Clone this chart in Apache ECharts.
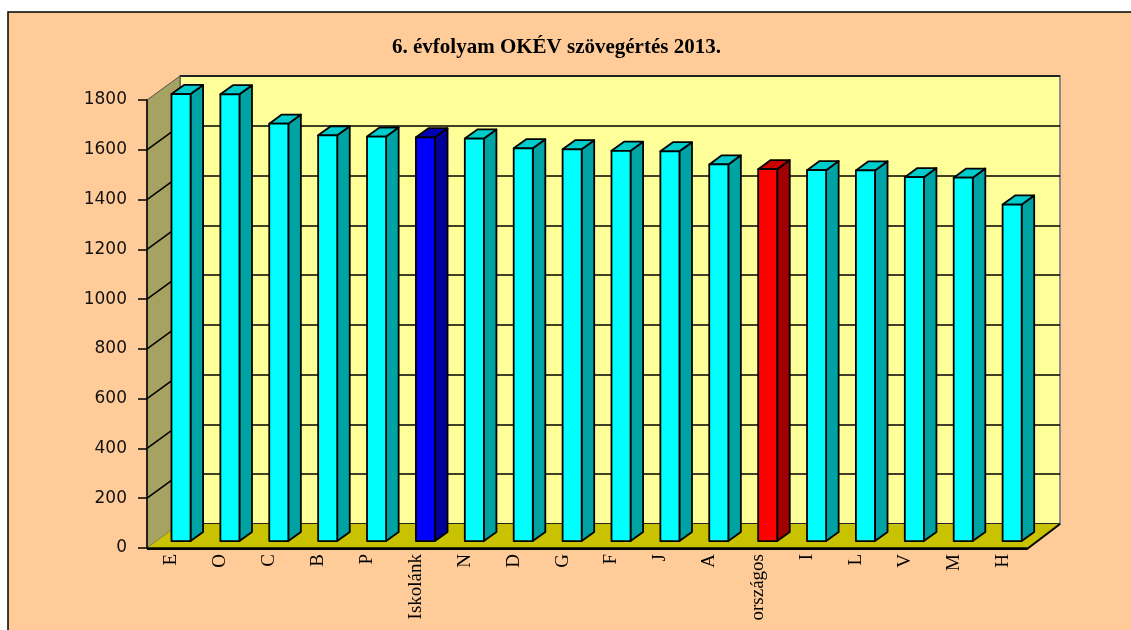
<!DOCTYPE html>
<html>
<head>
    <meta charset="UTF-8">
    <title>6. évfolyam OKÉV szövegértés 2013.</title>
    <script src="https://cdn.jsdelivr.net/npm/echarts@6/dist/echarts.min.js"></script>
    <style>
        html, body { margin: 0; padding: 0; background: #fff; }
    </style>
</head>
<body>
<div id="chart" style="width:1131px;height:630px;"></div>
<script type="text/javascript">

    var categories = ['E', 'O', 'C', 'B', 'P', 'Iskolánk', 'N', 'D', 'G', 'F', 'J', 'A', 'országos', 'I', 'L', 'V', 'M', 'H'];
    var values = [1796, 1795, 1677, 1630, 1625, 1622, 1617, 1578, 1574, 1568, 1566, 1513, 1494, 1490, 1489, 1462, 1460, 1352];
    var yTicks = [0, 200, 400, 600, 800, 1000, 1200, 1400, 1600, 1800];

    // 3d look: depth offset of the back wall, and where the bar sits in that depth
    var DX = 33, DY = -24;
    var F1 = 0.29, F2 = 0.67;

    var barColors = {
        normal: {front: '#00ffff', side: '#00a3a3', top: '#00cccc'},
        'Iskolánk': {front: '#0000ff', side: '#000099', top: '#0000b3'},
        'országos': {front: '#ff0000', side: '#a00000', top: '#c80000'}
    };

    var yMax = yTicks[yTicks.length - 1];

    function renderFrame(params, api) {
        var bw = api.size([1, 0])[0];
        var pb = api.coord([0, 0]);
        var pe = api.coord([categories.length - 1, 0]);
        var x0 = pb[0] - bw / 2;
        var x1 = pe[0] + bw / 2;
        var yb = pb[1];
        var yt = api.coord([0, yMax])[1];
        var children = [];

        // left side wall
        children.push({
            type: 'polygon',
            shape: {points: [[x0, yb], [x0, yt], [x0 + DX, yt + DY], [x0 + DX, yb + DY]]},
            style: {fill: '#a6a262', stroke: '#555', lineWidth: 1}
        });
        yTicks.forEach(function (t) {
            if (t === 0 || t === yMax) return;
            var y = api.coord([0, t])[1];
            children.push({
                type: 'line',
                shape: {x1: x0, y1: y, x2: x0 + DX, y2: y + DY},
                style: {stroke: '#000', lineWidth: 1.5}
            });
        });

        // floor
        children.push({
            type: 'polygon',
            shape: {points: [[x0, yb], [x1, yb], [x1 + DX, yb + DY], [x0 + DX, yb + DY]]},
            style: {fill: '#c8c200', stroke: null}
        });
        children.push({
            type: 'polyline',
            shape: {points: [[x0, yb + 1], [x1, yb + 1], [x1 + DX, yb + DY]]},
            style: {stroke: '#000', lineWidth: 2, fill: null}
        });
        return {type: 'group', children: children};
    }

    function renderBar(params, api) {
        var i = api.value(0);
        var v = api.value(1);
        var name = categories[i];
        var col = barColors[name] || barColors.normal;
        var bw = api.size([1, 0])[0];
        var w = bw * 0.39;
        var base = api.coord([i, 0]);
        var topP = api.coord([i, v]);
        var cx = base[0] + F1 * DX;
        var xl = cx - w / 2, xr = cx + w / 2;
        var yBot = base[1] + F1 * DY;
        var yTop = topP[1] + F1 * DY;
        var ddx = (F2 - F1) * DX, ddy = (F2 - F1) * DY;
        var line = {stroke: '#000', lineWidth: 1.8, lineJoin: 'round'};
        return {
            type: 'group',
            children: [
                {
                    type: 'polygon',
                    shape: {points: [[xr, yTop], [xr + ddx, yTop + ddy], [xr + ddx, yBot + ddy], [xr, yBot]]},
                    style: Object.assign({fill: col.side}, line)
                },
                {
                    type: 'polygon',
                    shape: {points: [[xl, yTop], [xr, yTop], [xr + ddx, yTop + ddy], [xl + ddx, yTop + ddy]]},
                    style: Object.assign({fill: col.top}, line)
                },
                {
                    type: 'rect',
                    shape: {x: xl, y: yTop, width: w, height: yBot - yTop},
                    style: Object.assign({fill: col.front}, line)
                }
            ]
        };
    }

    var myChart = echarts.init(document.getElementById('chart'));

    myChart.setOption({
        backgroundColor: '#fff',
        animation: false,
        title: {
            text: '6. évfolyam OKÉV szövegértés 2013.',
            left: 387,
            top: 32,
            textStyle: {
                fontFamily: 'Liberation Serif',
                fontWeight: 'bold',
                fontSize: 21,
                color: '#000'
            }
        },
        graphic: [{
            type: 'rect',
            z: -10,
            silent: true,
            shape: {x: 8, y: 12, width: 1200, height: 700},
            style: {fill: '#ffcc99', stroke: '#000', lineWidth: 1.5}
        }],
        grid: [
            {left: 147, right: 104, top: 100, bottom: 82},
            {
                left: 180, right: 71, top: 76, bottom: 106,
                show: true, backgroundColor: '#ffff99',
                borderColor: '#8a8a8a', borderWidth: 2
            }
        ],
        xAxis: [
            {
                gridIndex: 0,
                type: 'category',
                data: categories,
                z: 10,
                axisLine: {lineStyle: {color: '#000', width: 1.5}},
                axisTick: {length: 6, lineStyle: {color: '#000', width: 1.5}},
                axisLabel: {
                    rotate: 90,
                    margin: 6,
                    interval: 0,
                    color: '#000',
                    fontFamily: 'Liberation Serif',
                    fontSize: 19
                }
            },
            {
                gridIndex: 1,
                type: 'category',
                data: categories,
                show: false
            }
        ],
        yAxis: [
            {
                gridIndex: 0,
                type: 'value',
                min: 0,
                max: yMax,
                interval: 200,
                z: 10,
                axisLine: {show: true, lineStyle: {color: '#000', width: 1.5}},
                axisTick: {show: true, length: 9, lineStyle: {color: '#000', width: 1.5}},
                splitLine: {show: false},
                axisLabel: {
                    margin: 20,
                    color: '#111',
                    fontFamily: 'DejaVu Sans',
                    fontSize: 17,
                    formatter: function (v) {
                        return String(v);
                    }
                }
            },
            {
                gridIndex: 1,
                type: 'value',
                min: 0,
                max: yMax,
                interval: 200,
                axisLine: {show: false},
                axisTick: {show: false},
                axisLabel: {show: false},
                splitLine: {show: true, lineStyle: {color: '#000', width: 1.5}}
            }
        ],
        series: [
            {
                name: 'frame',
                type: 'custom',
                xAxisIndex: 0,
                yAxisIndex: 0,
                z: 1,
                silent: true,
                renderItem: renderFrame,
                data: [[0, 0]]
            },
            {
                name: 'OKÉV',
                type: 'custom',
                xAxisIndex: 0,
                yAxisIndex: 0,
                z: 3,
                renderItem: renderBar,
                data: values.map(function (v, i) {
                    return [i, v];
                })
            }
        ]
    });
</script>
</body>
</html>
